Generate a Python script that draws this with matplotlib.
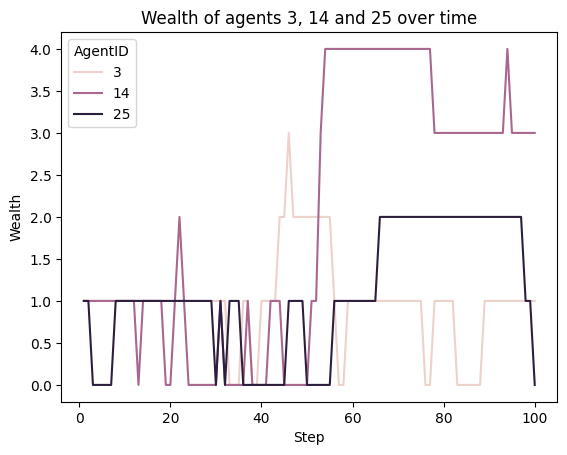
import matplotlib
matplotlib.use("Agg")
import matplotlib.pyplot as plt
import seaborn as sns
import pandas as pd

steps = list(range(1, 101))

wealth_3 = [1, 1, 1, 1, 1, 1, 1, 1, 1, 1,
            1, 1, 1, 1, 1, 1, 1, 1, 1, 1,
            1, 1, 1, 1, 1, 1, 1, 1, 1, 1,
            1, 1, 0, 0, 0, 1, 1, 0, 0, 1,
            1, 1, 1, 2, 2, 3, 2, 2, 2, 2,
            2, 2, 2, 2, 2, 1, 0, 0, 1, 1,
            1, 1, 1, 1, 1, 1, 1, 1, 1, 1,
            1, 1, 1, 1, 1, 0, 0, 1, 1, 1,
            1, 1, 0, 0, 0, 0, 0, 0, 1, 1,
            1, 1, 1, 1, 1, 1, 1, 1, 1, 1]

wealth_14 = [1, 1, 1, 1, 1, 1, 1, 1, 1, 1,
             1, 1, 0, 1, 1, 1, 1, 1, 0, 0,
             1, 2, 1, 0, 0, 0, 0, 0, 0, 0,
             1, 0, 0, 0, 0, 0, 1, 0, 0, 0,
             0, 1, 1, 1, 0, 0, 0, 0, 0, 0,
             1, 1, 3, 4, 4, 4, 4, 4, 4, 4,
             4, 4, 4, 4, 4, 4, 4, 4, 4, 4,
             4, 4, 4, 4, 4, 4, 4, 3, 3, 3,
             3, 3, 3, 3, 3, 3, 3, 3, 3, 3,
             3, 3, 3, 4, 3, 3, 3, 3, 3, 3]

wealth_25 = [1, 1, 0, 0, 0, 0, 0, 1, 1, 1,
             1, 1, 1, 1, 1, 1, 1, 1, 1, 1,
             1, 1, 1, 1, 1, 1, 1, 1, 1, 0,
             1, 0, 1, 1, 1, 0, 0, 0, 0, 0,
             0, 0, 0, 0, 0, 1, 1, 1, 1, 0,
             0, 0, 0, 0, 0, 1, 1, 1, 1, 1,
             1, 1, 1, 1, 1, 2, 2, 2, 2, 2,
             2, 2, 2, 2, 2, 2, 2, 2, 2, 2,
             2, 2, 2, 2, 2, 2, 2, 2, 2, 2,
             2, 2, 2, 2, 2, 2, 2, 1, 1, 0]

agents = [3, 14, 25]
series = {3: wealth_3, 14: wealth_14, 25: wealth_25}

rows = []
for a in agents:
    for s, w in zip(steps, series[a]):
        rows.append({"Step": s, "AgentID": a, "Wealth": w})
df = pd.DataFrame(rows)

fig, ax = plt.subplots(figsize=(6.4, 4.8), dpi=100)
sns.lineplot(data=df, x="Step", y="Wealth", hue="AgentID", ax=ax)
ax.set_title("Wealth of agents 3, 14 and 25 over time")
fig.savefig("out.png", dpi=100, bbox_inches="tight")
